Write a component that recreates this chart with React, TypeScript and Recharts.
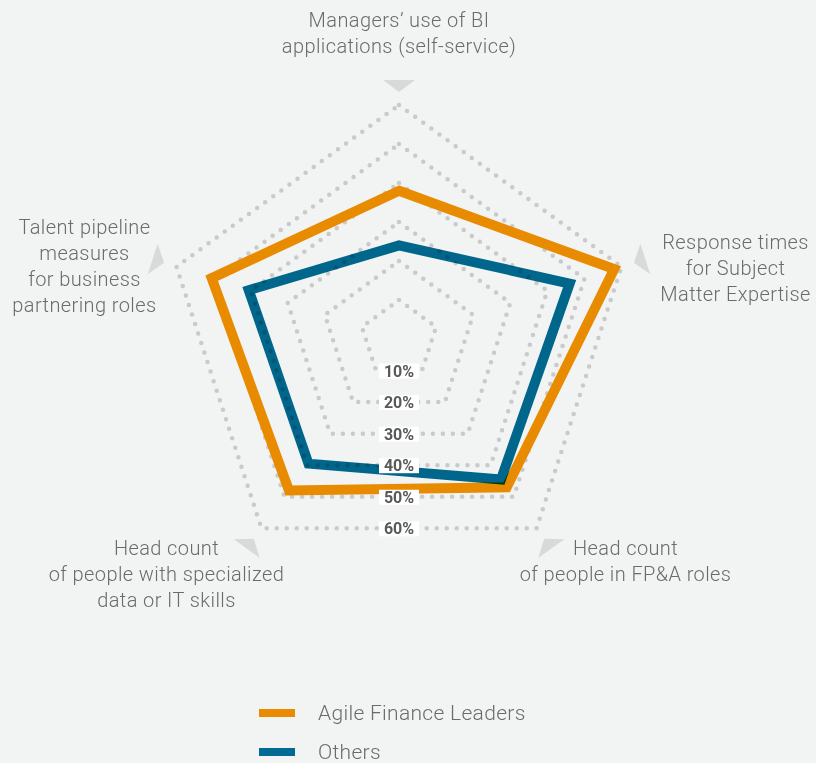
import { RadarChart, Radar, PolarGrid, PolarAngleAxis, PolarRadiusAxis, Legend } from 'recharts';

// Axis categories (clockwise from top)
const categories = [
  ['Managers’ use of BI', 'applications (self-service)'],
  ['Response times', 'for Subject', 'Matter Expertise'],
  ['Head count', 'of people in FP&A roles'],
  ['Head count', 'of people with specialized', 'data or IT skills'],
  ['Talent pipeline', 'measures', 'for business', 'partnering roles'],
];

const agileLeaders = [38, 58, 47, 48, 50.5];
const others = [24, 46, 44.5, 39.5, 40.5];

const radiusTicks = [0, 10, 20, 30, 40, 50, 60];

const seriesNames = ['Agile Finance Leaders', 'Others'];
const COLORS = ['#e98b00', '#006b92'];

const data = categories.map((lines, i) => ({
  key: lines.join(' '),
  lines,
  agile: agileLeaders[i],
  others: others[i],
}));

const CX = 399;
const CY = 339;
const R = 234;

// where the label block sits relative to the axis end point
const labelOffsets = [
  { dx: 0, dy: -78 },
  { dx: 114, dy: -18 },
  { dx: 89, dy: 27 },
  { dx: -95, dy: 27 },
  { dx: -92, dy: -33 },
];

const AngleTick = (props: any) => {
  const { x, y, index } = props;
  const lines = categories[index];
  const d = Math.hypot(x - CX, y - CY) || 1;
  const ux = (x - CX) / d;
  const uy = (y - CY) / d;
  const ax = CX + ux * R;
  const ay = CY + uy * R;
  const px = -uy;
  const py = ux;
  const tip = R + 13;
  const base = R + 25;
  const hw = 16;
  const tx = CX + ux * tip;
  const ty = CY + uy * tip;
  const bx = CX + ux * base;
  const by = CY + uy * base;
  const pts = `${tx},${ty} ${bx + px * hw},${by + py * hw} ${bx - px * hw},${by - py * hw}`;
  const off = labelOffsets[index];
  return (
    <g>
      <polygon points={pts} fill="#d9d9d9" />
      <text
        x={ax + off.dx}
        y={ay + off.dy}
        textAnchor="middle"
        fill="#6b6b6b"
        fontSize={20}
        fontFamily="Roboto"
        fontWeight={300}
        letterSpacing={0.4}
      >
        {lines.map((l, i) => (
          <tspan key={i} x={ax + off.dx} dy={i === 0 ? 0 : 26}>
            {l}
          </tspan>
        ))}
      </text>
    </g>
  );
};

const RadiusTick = (props: any) => {
  const { x, y, payload } = props;
  if (!payload || payload.value === 0) return <g />;
  const yy = CY + (y - CY) * Math.cos(Math.PI / 5);
  return (
    <g>
      <rect x={x - 20} y={yy - 7} width={40} height={15} fill="#ffffff" />
      <text
        x={x}
        y={yy + 6}
        textAnchor="middle"
        fill="#595959"
        fontSize={16}
        fontWeight={700}
        fontFamily="Roboto"
      >
        {payload.value}%
      </text>
    </g>
  );
};

const LegendContent = () => (
  <div style={{ fontFamily: 'Roboto', fontWeight: 300, fontSize: 21, color: '#6b6b6b', letterSpacing: 0.3 }}>
    {seriesNames.map((name, i) => (
      <div key={name} style={{ display: 'flex', alignItems: 'center', height: 39 }}>
        <div style={{ width: 36, height: 8, background: COLORS[i], marginRight: 23 }} />
        <span>{name}</span>
      </div>
    ))}
  </div>
);

export default function App() {
  return (
    <div style={{ width: 816, height: 763, background: '#f2f3f3', position: 'relative' }}>
      <style>{`body{margin:0;background:#f2f3f3}.blend{mix-blend-mode:multiply}`}</style>
      <RadarChart
        width={816}
        height={763}
        data={data}
        cx={CX}
        cy={CY}
        outerRadius={R}
        startAngle={90}
        endAngle={-270}
        margin={{ top: 0, right: 0, bottom: 0, left: 0 }}
      >
        <PolarAngleAxis dataKey="key" tick={<AngleTick />} tickLine={false} axisLine={false} />
        <PolarRadiusAxis
          angle={-90}
          domain={[0, 60]}
          ticks={radiusTicks as any}
          tickCount={7}
          tick={<RadiusTick />}
          axisLine={false}
          tickLine={false}
        />
        <Radar
          name={seriesNames[0]}
          dataKey="agile"
          stroke={COLORS[0]}
          strokeWidth={10}
          fill="none"
          fillOpacity={0}
          dot={false}
          isAnimationActive={false}
        />
        <Radar
          name={seriesNames[1]}
          dataKey="others"
          stroke={COLORS[1]}
          strokeWidth={10}
          fill="none"
          fillOpacity={0}
          dot={false}
          className="blend"
          isAnimationActive={false}
        />
        <PolarGrid
          gridType="polygon"
          radialLines={false}
          stroke="#8c8c8c"
          strokeOpacity={0.4}
          strokeWidth={4.5}
          strokeDasharray="0 10"
          strokeLinecap="round"
        />
        <Legend
          content={<LegendContent />}
          wrapperStyle={{ position: 'absolute', left: 259, top: 693, width: 320 }}
        />
      </RadarChart>
    </div>
  );
}
